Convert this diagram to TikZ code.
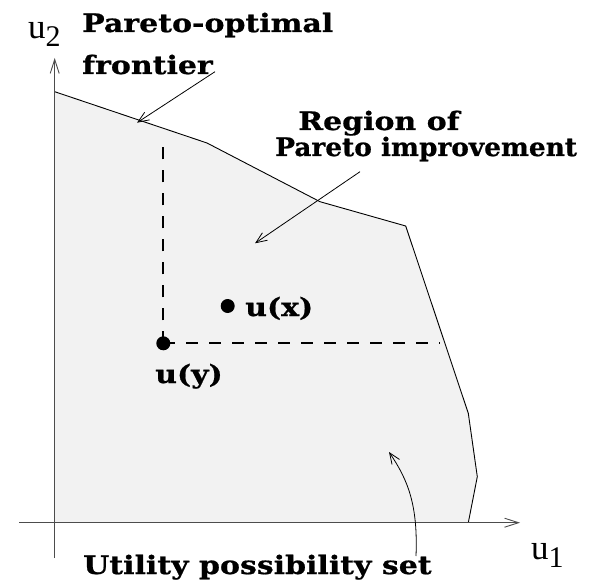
\documentclass[tikz,border=0pt]{standalone}
\usepackage{fontspec}
\setmainfont{Liberation Serif}
\newfontfamily\lblfont{DejaVu Serif Bold}[FakeStretch=1.18,FakeBold=0.8]
\usetikzlibrary{arrows.meta}
\tikzset{
  lbl/.style={font=\lblfont\fontsize{25.4}{25.4}\selectfont, inner sep=0pt, anchor=base west},
  axislbl/.style={font=\fontsize{35}{35}\selectfont, inner sep=0pt, anchor=base west},
  axis/.style={draw=black!70, line width=0.9pt, -{Straight Barb[length=14pt,width=9pt,line width=0.9pt]}},
  pointer/.style={draw=black, line width=0.8pt, -{Straight Barb[length=11pt,width=9pt,line width=0.8pt]}},
  guide/.style={draw=black, line width=2pt, dash pattern=on 12pt off 11pt},
  dotmark/.style={circle, fill=black, inner sep=0pt, minimum size=14pt},
  region/.style={fill=black!5, draw=none}
}
\newcommand{\axsub}[1]{\raisebox{-8pt}{\fontsize{30}{30}\selectfont #1}}
\begin{document}
\begin{tikzpicture}[x=1pt,y=-1pt]
\useasboundingbox (0,0) rectangle (599,585);
% region
\coordinate (o) at (54.7,522.7);
\coordinate (f0) at (54.7,91.7);
\coordinate (f1) at (207,143);
\coordinate (f2) at (320,201.7);
\coordinate (f3) at (405.7,226);
\coordinate (f4) at (468.3,413.3);
\coordinate (f5) at (477.3,476.7);
\coordinate (f6) at (468.3,522.7);
\fill[region] (o) -- (f0) -- (f1) -- (f2) -- (f3) -- (f4) -- (f5) -- (f6) -- cycle;
\draw[line width=0.9pt, line join=round] (f0) -- (f1) -- (f2) -- (f3) -- (f4) -- (f5) -- (f6);
% axes
\coordinate (xs) at (19,522.7);
\coordinate (xe) at (520,522.7);
\coordinate (ys) at (54.7,558);
\coordinate (ye) at (54.7,58);
\draw[axis] (xs) -- (xe);
\draw[axis] (ys) -- (ye);
% points
\node[dotmark] (ux) at (227.7,306) {};
\node[dotmark] (uy) at (163.3,343.3) {};
\coordinate (vtop) at (163.3,137);
\coordinate (hend) at (440,343.3);
\draw[guide] (uy.center) -- (vtop);
\draw[guide] (uy.center) -- (hend);
% labels
\node[lbl] (lux) at (245,316) {u(x)};
\node[lbl] (luy) at (155,383) {u(y)};
\node[lbl] (pof1) at (82,32) {Pareto-optimal};
\node[lbl] (pof2) at (82,74) {frontier};
\node[lbl] (rpi1) at (298,130) {Region of};
\node[lbl] (rpi2) at (275,156) {\scalebox{0.88}[1]{Pareto improvement}};
\node[lbl] (ups) at (83,574) {Utility possibility set};
\node[axislbl] (u2) at (28,39) {u\axsub{2}};
\node[axislbl] (u1) at (531,559) {u\axsub{1}};
% pointers
\coordinate (a1s) at (215,71.7);
\coordinate (a1e) at (137,122.7);
\draw[pointer] (a1s) -- (a1e);
\coordinate (a2s) at (360,171.7);
\coordinate (a2e) at (255,243.3);
\draw[pointer] (a2s) -- (a2e);
\coordinate (a3s) at (416,556);
\coordinate (a3e) at (389,452);
\draw[pointer] (a3s) .. controls (418,505) and (408,480) .. (a3e);
\end{tikzpicture}
\end{document}
